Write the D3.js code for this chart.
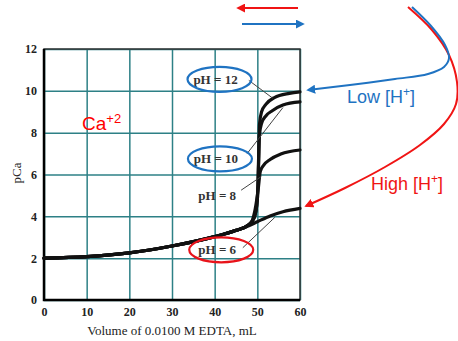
<!DOCTYPE html>
<html>
<head>
<meta charset="utf-8">
<script src="https://cdn.jsdelivr.net/npm/d3@7"></script>
<style>
  body { margin: 0; background: #fff; }
  svg { display: block; }
</style>
</head>
<body>
<svg id="chart"></svg>
<script>
// values (volume in mL, pCa)
const vol6   = [0, 10, 20, 30, 40, 45, 48, 50, 53, 56, 60];
const pCa6   = [2.0, 2.07, 2.25, 2.58, 3.03, 3.32, 3.55, 3.74, 4.02, 4.22, 4.38];
const vol8   = [0, 10, 20, 30, 40, 45, 48, 48.8, 49.5, 50.2, 50.7, 51.5, 53, 55.5, 60];
const pCa8   = [2.0, 2.07, 2.25, 2.58, 3.03, 3.33, 3.6, 3.8, 4.35, 5.3, 6.15, 6.45, 6.72, 6.98, 7.17];
const vol10  = [0, 10, 20, 30, 40, 45, 48, 49.3, 50.0, 50.3, 50.5, 51, 52, 53.5, 56, 60];
const pCa10  = [2.0, 2.07, 2.25, 2.58, 3.03, 3.33, 3.6, 3.95, 4.8, 6.5, 7.9, 8.45, 8.8, 9.05, 9.32, 9.47];
const vol12  = [0, 10, 20, 30, 40, 45, 48, 49.3, 50.0, 50.3, 50.5, 51, 52, 54, 57.5, 60];
const pCa12  = [2.0, 2.07, 2.25, 2.58, 3.03, 3.33, 3.6, 3.95, 4.8, 6.8, 8.4, 9.0, 9.35, 9.68, 9.88, 9.95];

const xTicks = [0, 10, 20, 30, 40, 50, 60];
const yTicks = [0, 2, 4, 6, 8, 10, 12];

// curve labels: text, leader start/end in data units, ring colour (null = none)
const labelText  = ["pH = 12", "pH = 10", "pH = 8", "pH = 6"];
const labelPos   = [[40.2, 10.55], [40.3, 6.75], [40.6, 5.0], [40.6, 2.4]];
const leaderFrom = [[48.0, 10.5], [47.6, 7.0], [46.2, 5.25], [46.6, 2.5]];
const leaderTo   = [[53.6, 9.65], [56.0, 9.2], [50.9, 5.9], [54.1, 3.95]];
const ringColor  = ["#1f73c2", "#1f73c2", null, "#e8131a"];

const W = 458, H = 341;
const margin = { top: 49, right: 158, bottom: 41, left: 44 };
const width = W - margin.left - margin.right;
const height = H - margin.top - margin.bottom;

const svg = d3.select("#chart").attr("width", W).attr("height", H);

const x = d3.scaleLinear().domain([0, 60]).range([margin.left, margin.left + width]);
const y = d3.scaleLinear().domain([0, 12]).range([margin.top + height, margin.top]);

const gridColor = "#2d8086";

// grid + axes
const xAxis = svg.append("g")
  .attr("transform", "translate(0," + (margin.top + height) + ")")
  .call(d3.axisBottom(x).tickValues(xTicks).tickSizeInner(-height).tickSizeOuter(0).tickPadding(7));
const yAxis = svg.append("g")
  .attr("transform", "translate(" + margin.left + ",0)")
  .call(d3.axisLeft(y).tickValues(yTicks).tickSizeInner(-width).tickSizeOuter(0).tickPadding(7));

[xAxis, yAxis].forEach(ax => {
  ax.select(".domain").remove();
  ax.selectAll(".tick line").attr("stroke", gridColor).attr("stroke-width", 1.5);
  ax.selectAll(".tick text")
    .attr("font-family", "'Liberation Serif', 'Times New Roman', serif")
    .attr("font-weight", "bold")
    .attr("font-size", 12)
    .attr("fill", "#222");
});

// frame
svg.append("rect")
  .attr("x", margin.left).attr("y", margin.top)
  .attr("width", width).attr("height", height)
  .attr("fill", "none").attr("stroke", "#333").attr("stroke-width", 1.5);
svg.append("path")
  .attr("d", "M" + margin.left + "," + margin.top + "V" + (margin.top + height) + "H" + (margin.left + width))
  .attr("fill", "none").attr("stroke", "#000").attr("stroke-width", 2.5);

// axis titles
svg.append("text")
  .attr("x", 172).attr("y", 335)
  .attr("text-anchor", "middle")
  .attr("font-family", "'Liberation Serif', 'Times New Roman', serif")
  .attr("font-size", 13)
  .attr("fill", "#222")
  .text("Volume of 0.0100 M EDTA, mL");
svg.append("text")
  .attr("transform", "translate(21,173) rotate(-90)")
  .attr("text-anchor", "middle")
  .attr("font-family", "'Liberation Serif', 'Times New Roman', serif")
  .attr("font-size", 13)
  .attr("fill", "#222")
  .text("pCa");

// titration curves
const line = d3.line().x(d => x(d[0])).y(d => y(d[1])).curve(d3.curveMonotoneX);
const series = [[vol6, pCa6], [vol8, pCa8], [vol10, pCa10], [vol12, pCa12]];
svg.append("g").selectAll("path")
  .data(series)
  .enter().append("path")
  .attr("d", s => line(s[0].map((v, i) => [v, s[1][i]])))
  .attr("fill", "none")
  .attr("stroke", "#111")
  .attr("stroke-width", 3.2)
  .attr("stroke-linecap", "round");

// leaders, labels, rings
const lab = svg.append("g");
labelText.forEach((t, i) => {
  lab.append("line")
    .attr("x1", x(leaderFrom[i][0])).attr("y1", y(leaderFrom[i][1]))
    .attr("x2", x(leaderTo[i][0])).attr("y2", y(leaderTo[i][1]))
    .attr("stroke", "#444").attr("stroke-width", 1);
  lab.append("text")
    .attr("x", x(labelPos[i][0])).attr("y", y(labelPos[i][1]))
    .attr("dy", "0.35em")
    .attr("text-anchor", "middle")
    .attr("font-family", "'Liberation Serif', 'Times New Roman', serif")
    .attr("font-weight", "bold")
    .attr("font-size", 13)
    .attr("fill", "#333")
    .text(t);
  if (ringColor[i]) {
    lab.append("ellipse")
      .attr("cx", x(labelPos[i][0]) + 4).attr("cy", y(labelPos[i][1]))
      .attr("rx", 32).attr("ry", 12.5)
      .attr("fill", "none")
      .attr("stroke", ringColor[i]).attr("stroke-width", 2.2);
  }
});

// Ca+2
const ca = svg.append("text")
  .attr("x", 82).attr("y", 130)
  .attr("font-family", "'Liberation Sans', Arial, sans-serif")
  .attr("font-size", 19)
  .attr("fill", "#f00");
ca.append("tspan").text("Ca");
ca.append("tspan").attr("dy", -7).attr("font-size", 13).text("+2");

// annotation arrows
const defs = svg.append("defs");
[["red", "#f01414"], ["blue", "#1f73c2"]].forEach(m => {
  defs.append("marker")
    .attr("id", "arrow-" + m[0])
    .attr("viewBox", "0 -5 10 10")
    .attr("refX", 8).attr("refY", 0)
    .attr("markerWidth", 4.5).attr("markerHeight", 4.5)
    .attr("orient", "auto")
    .append("path")
    .attr("d", "M0,-5L10,0L0,5Z")
    .attr("fill", m[1]);
});

const redPts  = [[408, 7], [432, 30], [449, 55], [457, 82], [456, 104], [444, 124], [420, 145], [385, 167], [345, 188], [306, 206]];
const bluePts = [[412, 7], [431, 26], [445, 45], [449, 58], [444, 67], [428, 74], [395, 79], [350, 85], [308, 90]];
const free = d3.line().curve(d3.curveCatmullRom.alpha(0.5));

svg.append("path").attr("d", free(redPts))
  .attr("fill", "none").attr("stroke", "#f01414").attr("stroke-width", 2)
  .attr("marker-end", "url(#arrow-red)");
svg.append("path").attr("d", free(bluePts))
  .attr("fill", "none").attr("stroke", "#1f73c2").attr("stroke-width", 2)
  .attr("marker-end", "url(#arrow-blue)");

svg.append("line").attr("x1", 298).attr("y1", 8).attr("x2", 238).attr("y2", 8)
  .attr("stroke", "#f01414").attr("stroke-width", 2).attr("marker-end", "url(#arrow-red)");
svg.append("line").attr("x1", 242).attr("y1", 24).attr("x2", 303).attr("y2", 24)
  .attr("stroke", "#1f73c2").attr("stroke-width", 2).attr("marker-end", "url(#arrow-blue)");

// Low / High [H+]
function hLabel(txt, xx, yy, col) {
  const t = svg.append("text")
    .attr("x", xx).attr("y", yy)
    .attr("font-family", "'Liberation Sans', Arial, sans-serif")
    .attr("font-size", 18)
    .attr("fill", col);
  t.append("tspan").text(txt + " [H");
  t.append("tspan").attr("dy", -7).attr("font-size", 12).text("+");
  t.append("tspan").attr("dy", 7).text("]");
}
hLabel("Low", 347, 103, "#1f73c2");
hLabel("High", 371, 190, "#f01414");
</script>
</body>
</html>
